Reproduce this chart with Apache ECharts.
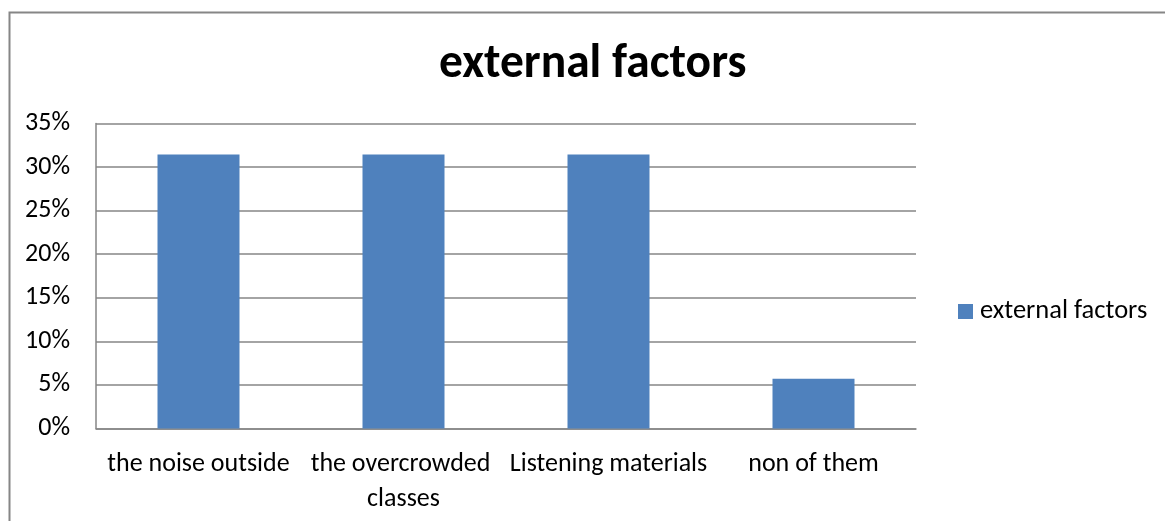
<!DOCTYPE html>
<html><head><meta charset="utf-8">
<script src="https://cdn.jsdelivr.net/npm/echarts@6/dist/echarts.min.js"></script>
<style>html,body{margin:0;padding:0;background:#fff}#c{width:1165px;height:521px}</style>
</head><body><div id="c"></div>
<script>
const title = 'external factors';
const seriesName = 'external factors';
const categories = ['the noise outside', 'the overcrowded classes', 'Listening materials', 'non of them'];
const values = [31.43, 31.43, 31.43, 5.71];
const yTicks = [0, 5, 10, 15, 20, 25, 30, 35];

const FONT = 'Carlito, Lato, sans-serif';
const chart = echarts.init(document.getElementById('c'), null, {renderer: 'canvas'});
chart.setOption({
  animation: false,
  backgroundColor: '#fff',
  graphic: [{
    type: 'rect', left: 7, top: 10,
    shape: {width: 1200, height: 560},
    style: {fill: 'none', stroke: '#868686', lineWidth: 2}, silent: true, z: -1
  }],
  title: {
    text: title, left: 434, top: 36,
    textStyle: {fontFamily: FONT, fontWeight: 'bold', fontSize: 47.5, color: '#000'}
  },
  legend: {
    data: [seriesName], left: 953, top: 293, itemWidth: 15, itemHeight: 15, itemGap: 0,
    icon: 'rect',
    textStyle: {fontFamily: FONT, fontSize: 26.5, color: '#000', padding: [0, 0, 0, 2]}
  },
  grid: {left: 96, right: 249, top: 123.5, bottom: 92.5, containLabel: false},
  xAxis: {
    type: 'category', data: categories,
    axisLine: {lineStyle: {color: '#868686', width: 1.5}},
    axisTick: {show: false},
    axisLabel: {
      fontFamily: FONT, fontSize: 26, color: '#000', margin: 18, interval: 0,
      width: 216, overflow: 'break', lineHeight: 35
    }
  },
  yAxis: {
    type: 'value', min: 0, max: 35, interval: 5,
    axisLine: {show: true, lineStyle: {color: '#868686', width: 1.5}},
    axisTick: {show: false},
    splitLine: {lineStyle: {color: '#868686', width: 1.5}},
    axisLabel: {
      fontFamily: FONT, fontSize: 26, color: '#000', margin: 26,
      formatter: v => yTicks.includes(v) ? v + '%' : ''
    }
  },
  series: [{
    name: seriesName, type: 'bar', data: values, barWidth: '40%',
    itemStyle: {color: '#4F81BD'}
  }]
});
</script></body></html>
